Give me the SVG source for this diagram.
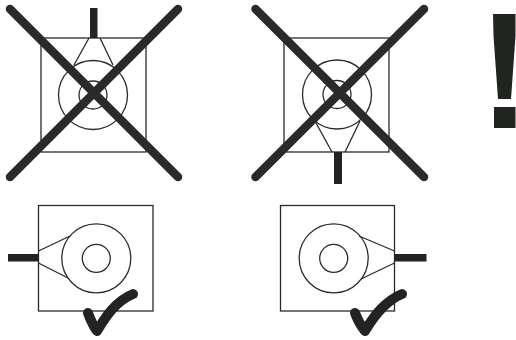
<svg xmlns="http://www.w3.org/2000/svg" width="516" height="340" viewBox="0 0 516 340">
<style>
.o{fill:none;stroke:#2b2a29;stroke-width:1.3}
.s{fill:#222421;stroke:none}
.x{fill:none;stroke:#2b2a29;stroke-width:8.500;stroke-linecap:round}
.c{fill:none;stroke:#222421;stroke-width:10;stroke-linecap:round;stroke-linejoin:round}
</style>
<rect width="516" height="340" fill="#fff"/>
<g id="hob-top-wrong">
<rect class="o" x="41" y="38" width="105" height="114"/>
<circle class="o" cx="93" cy="95" r="34.500"/>
<circle class="o" cx="93" cy="95" r="14"/>
<path class="o" d="M89 38 74 65M100 38 113 65"/>
<rect class="s" x="90" y="8" width="7.500" height="30"/>
<path class="x" d="M10 9 178 177M178 9 10 177"/>
</g>
<g id="hob-bottom-wrong">
<rect class="o" x="284" y="38" width="105" height="114"/>
<circle class="o" cx="337" cy="94.500" r="34.500"/>
<circle class="o" cx="337" cy="94.500" r="14"/>
<path class="o" d="M316 123 332 152M360 121 345 152"/>
<rect class="s" x="334" y="152" width="8" height="32"/>
<path class="x" d="M255.500 9 424 177M424 9 255.500 177"/>
</g>
<g id="warning">
<path class="s" d="M493 14H515.500V36L511 99H498L493.500 36Z"/>
<rect class="s" x="494" y="107" width="21.500" height="21"/>
</g>
<g id="hob-left-right">
<rect class="o" x="38.500" y="205.500" width="114.500" height="105.500"/>
<circle class="o" cx="96.300" cy="258.300" r="34.500"/>
<circle class="o" cx="96.300" cy="258.300" r="14"/>
<path class="o" d="M38.500 251 70 236M38.500 263 68 278"/>
<rect class="s" x="8" y="254" width="30.500" height="7.500"/>
<path class="c" d="M88 313C91 321 93 326 97 331C106 316 116 301 133 294"/>
</g>
<g id="hob-right-right">
<rect class="o" x="280.500" y="205.500" width="114" height="105.500"/>
<circle class="o" cx="333.700" cy="258.300" r="34.500"/>
<circle class="o" cx="333.700" cy="258.300" r="14"/>
<path class="o" d="M359 236 394.500 251M361 279 394.500 263"/>
<rect class="s" x="394.500" y="254" width="32" height="7.500"/>
<path class="c" d="M355 313C358 321 361 326 365 331C374 316 385 301 402 294"/>
</g>
<g id="connectors"></g>
</svg>
